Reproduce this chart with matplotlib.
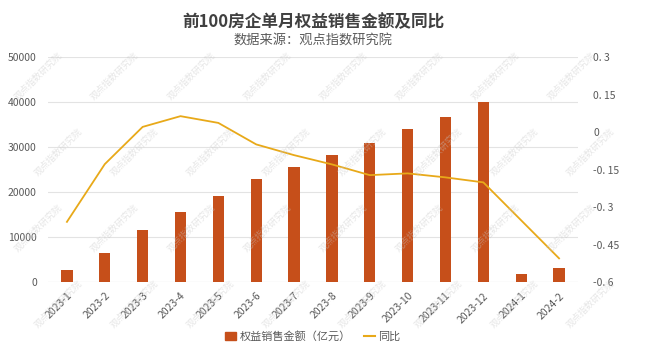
import numpy as np
import matplotlib.pyplot as plt
from matplotlib.patches import Patch
from matplotlib.lines import Line2D

plt.rcParams['font.family'] = ['Noto Sans CJK SC', 'DejaVu Sans']

# 月度数据
months = ["2023-1", "2023-2", "2023-3", "2023-4", "2023-5", "2023-6", "2023-7",
          "2023-8", "2023-9", "2023-10", "2023-11", "2023-12", "2024-1", "2024-2"]
sales = [2800, 6500, 11600, 15700, 19300, 23000, 25700,
         28200, 31000, 34000, 36700, 40100, 1800, 3100]
yoy = [-0.358, -0.127, 0.022, 0.065, 0.038, -0.048, -0.091,
       -0.128, -0.171, -0.164, -0.18, -0.2, -0.352, -0.504]

left_ticks = [0, 10000, 20000, 30000, 40000, 50000]
right_ticks = [-0.6, -0.45, -0.3, -0.15, 0, 0.15, 0.3]
right_labels = ["-0. 6", "-0. 45", "-0. 3", "-0. 15", "0", "0. 15", "0. 3"]

bar_color = "#C64F1A"
line_color = "#E8A919"
text_color = "#595959"

fig = plt.figure(figsize=(6.45, 3.46), dpi=100)
ax = fig.add_axes([0.0744, 0.184, 0.8217, 0.650])
ax2 = ax.twinx()

x = np.arange(len(months))
ax.bar(x, sales, width=0.3, color=bar_color, zorder=2)
ax2.plot(x, yoy, color=line_color, lw=1.3, zorder=3)

ax.set_xlim(-0.5, len(months) - 0.5)
ax.set_ylim(0, 50000)
ax.set_yticks(left_ticks)
ax.set_yticklabels([str(t) for t in left_ticks])
ax2.set_ylim(-0.6, 0.3)
ax2.set_yticks(right_ticks)
ax2.set_yticklabels(right_labels, ha="left")

ax.set_xticks(x)
ax.set_xticklabels(months, rotation=45, ha="right", rotation_mode="anchor")

ax.grid(axis="y", color="#E3E3E3", lw=0.8, zorder=0)
ax.set_axisbelow(True)
for a in (ax, ax2):
    for s in a.spines.values():
        s.set_visible(False)
    a.tick_params(length=0, labelsize=7.5, colors=text_color)
ax.tick_params(axis="y", pad=8)
ax.tick_params(axis="x", pad=6)
ax2.tick_params(axis="y", pad=11)
ax.axhline(0, color="#D9D9D9", lw=0.8, zorder=1)

fig.text(0.486, 0.935, "前100房企单月权益销售金额及同比", ha="center", va="center",
         fontsize=12, color="#404040", fontweight="bold")
fig.text(0.486, 0.882, "数据来源：观点指数研究院", ha="center", va="center",
         fontsize=9.5, color=text_color)

handles = [Patch(color=bar_color), Line2D([0], [0], color=line_color, lw=1.5)]
fig.legend(handles, ["权益销售金额（亿元）", "同比"], loc="center", ncol=2,
           bbox_to_anchor=(0.485, 0.027), frameon=False, fontsize=8,
           handlelength=1.0, handleheight=0.7, handletextpad=0.3,
           columnspacing=1.2, labelcolor=text_color)

# 水印
for row, yy in enumerate([0.78, 0.56, 0.34, 0.12]):
    off = 0.03 if row % 2 else 0.0
    for xx in np.arange(0.06, 1.0, 0.118):
        fig.text(xx + off, yy, "观点指数研究院", rotation=45, ha="center",
                 va="center", fontsize=6.5, color="#C8C8C8", alpha=0.45,
                 zorder=10)

fig.savefig("out.png", dpi=100)
